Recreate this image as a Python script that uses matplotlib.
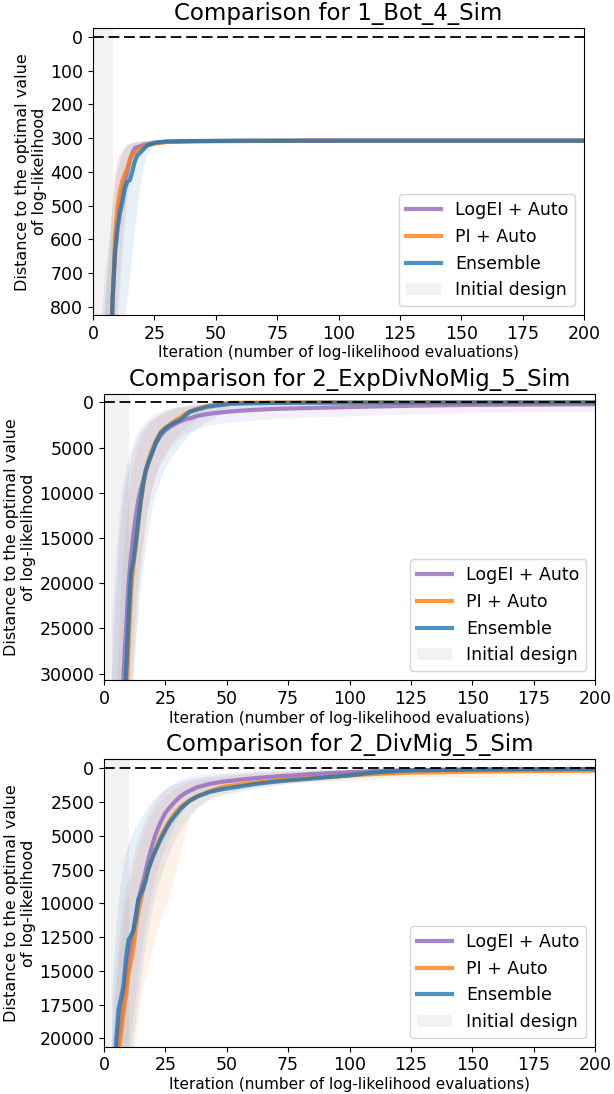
import numpy as np
import matplotlib
matplotlib.use("Agg")
from matplotlib import pyplot as plt
from matplotlib.patches import Patch
from matplotlib.lines import Line2D

# ---- data (median curve + lower/upper band) ----

# 1_Bot_4_Sim
bot_iter = [3, 4, 5, 6, 7, 8, 9, 10, 11, 12, 13, 14, 15, 16, 17, 18, 19, 20, 22, 25, 30, 40, 60, 100, 200]
bot_logei = [3000, 2500, 2000, 1500, 1000, 780, 620, 540, 490, 455, 425, 400, 365, 345, 330, 327, 325, 322, 318, 314, 311, 309, 308, 307, 307]
bot_logei_lo = [1000, 900, 800, 700, 620, 500, 420, 380, 355, 340, 330, 322, 318, 315, 313, 312, 311, 310, 309, 308, 307, 306, 306, 306, 306]
bot_logei_hi = [4000, 3500, 3000, 2500, 1200, 1050, 950, 850, 750, 650, 560, 490, 430, 400, 375, 360, 350, 342, 332, 322, 316, 312, 310, 309, 309]
bot_pi = [3000, 2500, 2000, 1500, 1000, 790, 590, 500, 455, 425, 405, 390, 365, 350, 342, 336, 332, 328, 321, 316, 312, 310, 309, 308, 308]
bot_pi_lo = [1000, 900, 780, 700, 600, 480, 400, 360, 345, 335, 328, 322, 318, 315, 313, 312, 311, 310, 309, 308, 307, 306, 306, 306, 306]
bot_pi_hi = [4000, 3500, 3000, 2500, 1100, 1000, 900, 800, 700, 600, 520, 460, 420, 390, 370, 355, 345, 338, 330, 322, 316, 312, 310, 309, 309]
bot_ens = [3000, 2500, 2000, 1500, 1000, 770, 640, 570, 520, 490, 450, 429, 425, 400, 370, 352, 345, 338, 322, 314, 310, 309, 308, 308, 308]
bot_ens_lo = [900, 800, 700, 640, 580, 500, 440, 400, 370, 345, 330, 322, 318, 315, 313, 312, 311, 310, 309, 308, 307, 306, 306, 306, 306]
bot_ens_hi = [4000, 3500, 3000, 2500, 1200, 1100, 1000, 950, 900, 860, 830, 780, 720, 650, 580, 520, 460, 410, 350, 325, 316, 312, 310, 309, 309]

# 2_ExpDivNoMig_5_Sim
exp_iter = [3, 4, 5, 6, 7, 8, 9, 10, 11, 12, 13, 14, 15, 16, 17, 18, 19, 20, 21, 23, 25, 27, 29, 31, 33, 35, 38, 42, 46, 52, 60, 70, 85, 100, 125, 150, 200]
exp_logei = [80000, 70000, 60000, 50000, 38000, 30000, 25000, 20000, 17000, 14500, 12500, 10800, 9600, 8600, 7600, 6800, 6000, 5300, 4600, 3700, 3100, 2700, 2400, 2100, 1900, 1770, 1500, 1300, 1150, 1000, 850, 720, 620, 520, 380, 280, 220]
exp_logei_lo = [25000, 20000, 16000, 13000, 10000, 8500, 7000, 6000, 5000, 4200, 3600, 3100, 2700, 2400, 2100, 1800, 1600, 1400, 1200, 1000, 800, 650, 550, 450, 400, 350, 300, 250, 200, 150, 120, 100, 80, 60, 40, 30, 20]
exp_logei_hi = [99000, 99000, 99000, 99000, 99000, 50000, 42000, 35000, 30000, 26000, 22000, 19000, 17000, 15000, 13000, 11500, 10000, 9000, 8000, 6800, 5800, 5000, 4400, 3900, 3500, 3200, 2900, 2600, 2400, 2200, 2000, 1800, 1600, 1500, 1300, 1100, 1000]
exp_pi = [90000, 80000, 70000, 60000, 48000, 40000, 33000, 27000, 21000, 18000, 15800, 13300, 11000, 9200, 7600, 6500, 5700, 5000, 4300, 3300, 2800, 2400, 2000, 1700, 1300, 1000, 700, 400, 150, 50, 30, 20, 10, 10, 5, 5, 5]
exp_pi_lo = [40000, 35000, 30000, 25000, 20000, 16000, 13000, 10000, 8000, 6500, 5500, 4600, 3900, 3300, 2900, 2500, 2200, 1900, 1700, 1300, 1000, 800, 600, 450, 350, 250, 150, 80, 30, 10, 0, 0, 0, 0, 0, 0, 0]
exp_pi_hi = [99000, 99000, 99000, 99000, 99000, 60000, 50000, 42000, 36000, 30000, 25000, 21000, 18000, 15500, 13000, 11500, 10000, 9000, 8000, 6500, 5500, 4600, 4000, 3400, 2900, 2400, 1800, 1200, 800, 400, 200, 100, 60, 40, 30, 20, 15]
exp_ens = [90000, 80000, 70000, 60000, 45000, 36000, 30000, 24000, 19000, 17500, 15400, 13000, 10800, 9000, 7500, 6700, 6000, 5300, 4540, 3430, 2900, 2510, 2200, 1960, 1500, 1040, 800, 500, 350, 150, 100, 60, 40, 30, 20, 15, 10]
exp_ens_lo = [30000, 25000, 20000, 15000, 12000, 10000, 8500, 7000, 6000, 5000, 4300, 3700, 3200, 2800, 2500, 2200, 2000, 1800, 1600, 1300, 1000, 800, 650, 500, 400, 300, 200, 100, 50, 20, 0, 0, 0, 0, 0, 0, 0]
exp_ens_hi = [99000, 99000, 99000, 99000, 99000, 45000, 40000, 36000, 33000, 30000, 26000, 23000, 20000, 18000, 16000, 14000, 12500, 11000, 10000, 8500, 7200, 6200, 5400, 4700, 4100, 3500, 2800, 2100, 1500, 1000, 700, 450, 300, 200, 150, 100, 80]

# 2_DivMig_5_Sim
div_iter = [3, 4, 5, 6, 7, 8, 9, 10, 11, 12, 13, 14, 15, 16, 17, 18, 19, 20, 21, 23, 25, 27, 29, 31, 33, 35, 38, 43, 48, 55, 62, 70, 76, 85, 100, 110, 125, 150, 175, 200]
div_logei = [31000, 26000, 22000, 19800, 18500, 17200, 15800, 14300, 13000, 12000, 10800, 9700, 9000, 8300, 7600, 6800, 6100, 5500, 4900, 4000, 3300, 2850, 2450, 2100, 1850, 1650, 1400, 1150, 1000, 850, 720, 600, 540, 420, 280, 200, 130, 90, 70, 60]
div_logei_lo = [20000, 17000, 14500, 12500, 11000, 9800, 8800, 7900, 7100, 6400, 5700, 5100, 4600, 4100, 3700, 3300, 2900, 2600, 2300, 1900, 1500, 1250, 1000, 800, 700, 600, 500, 400, 320, 250, 200, 150, 120, 100, 80, 60, 50, 40, 30, 20]
div_logei_hi = [60000, 50000, 40000, 32000, 28000, 25000, 23000, 21000, 19500, 18000, 16500, 15000, 13800, 12600, 11500, 10500, 9600, 8800, 8000, 6800, 5800, 4900, 4100, 3400, 2900, 2500, 2100, 1700, 1400, 1200, 1000, 800, 650, 500, 400, 320, 260, 220, 190, 170]
div_pi = [32000, 28000, 24000, 21000, 19500, 18000, 16800, 15200, 14300, 13300, 11800, 10600, 9800, 8900, 8030, 7500, 7000, 6450, 6000, 5100, 4400, 3800, 3300, 2900, 2600, 2350, 2050, 1700, 1400, 1200, 1050, 900, 830, 700, 520, 420, 320, 250, 200, 180]
div_pi_lo = [22000, 19000, 16000, 14000, 12500, 11200, 10000, 9000, 8000, 7200, 6500, 5800, 5200, 4700, 4200, 3800, 3400, 3100, 2800, 2400, 2000, 1750, 1500, 1300, 1150, 1000, 850, 700, 600, 450, 350, 280, 230, 200, 150, 120, 100, 80, 70, 60]
div_pi_hi = [60000, 50000, 40000, 35000, 30000, 27000, 25000, 23000, 21500, 21000, 20000, 18500, 17000, 16000, 15200, 14600, 13800, 13200, 12500, 11200, 10300, 9300, 7800, 6200, 4800, 3500, 2800, 2200, 1900, 1600, 1400, 1200, 1100, 1000, 900, 800, 700, 600, 550, 500]
div_ens = [30000, 24000, 20000, 17800, 17000, 16000, 14000, 12700, 12400, 12000, 11000, 9800, 9300, 8900, 8300, 7500, 7000, 6500, 6100, 5300, 4600, 3950, 3500, 3050, 2700, 2400, 2100, 1750, 1550, 1350, 1150, 980, 880, 750, 520, 300, 150, 90, 60, 40]
div_ens_lo = [17000, 14000, 11500, 9500, 8000, 7000, 6200, 5500, 5000, 4600, 4300, 4000, 3700, 3400, 3100, 2800, 2500, 2300, 2100, 1800, 1500, 1300, 1150, 1000, 900, 800, 700, 550, 450, 350, 280, 220, 180, 140, 100, 60, 40, 30, 20, 10]
div_ens_hi = [60000, 50000, 40000, 32000, 28000, 26000, 24000, 22000, 21000, 20000, 18500, 17000, 15500, 14000, 13000, 12000, 11000, 10000, 9200, 8000, 7000, 6000, 5200, 4600, 4000, 3500, 2900, 2300, 2000, 1700, 1450, 1250, 1100, 950, 750, 550, 350, 250, 200, 150]

labels = ['LogEI + Auto', 'PI + Auto', 'Ensemble']
colors = ['tab:purple', 'tab:orange', 'tab:blue']

panels = [
    ('1_Bot_4_Sim', bot_iter, [(bot_logei, bot_logei_lo, bot_logei_hi), (bot_pi, bot_pi_lo, bot_pi_hi), (bot_ens, bot_ens_lo, bot_ens_hi)],
     8, (824, -25), np.arange(0, 801, 100), [93 / 614, 1 - 315 / 1094, 491 / 614, 286.7 / 1094]),
    ('2_ExpDivNoMig_5_Sim', exp_iter, [(exp_logei, exp_logei_lo, exp_logei_hi), (exp_pi, exp_pi_lo, exp_pi_hi), (exp_ens, exp_ens_lo, exp_ens_hi)],
     10, (30700, -920), np.arange(0, 30001, 5000), [104 / 614, 1 - 680 / 1094, 491 / 614, 286 / 1094]),
    ('2_DivMig_5_Sim', div_iter, [(div_logei, div_logei_lo, div_logei_hi), (div_pi, div_pi_lo, div_pi_hi), (div_ens, div_ens_lo, div_ens_hi)],
     10, (20620, -670), np.arange(0, 20001, 2500), [104 / 614, 1 - 1046.7 / 1094, 491 / 614, 287.4 / 1094]),
]

fig = plt.figure(figsize=(6.14, 10.94), dpi=100)

for name, it, series, n_init, ylim, yticks, pos in panels:
    ax = fig.add_axes(pos)
    ax.axvspan(0, n_init, color='gray', alpha=0.1, lw=0, zorder=0)
    for (med, lo, hi), c in zip(series, colors):
        ax.fill_between(it, lo, hi, color=c, alpha=0.1, lw=0)
    for (med, lo, hi), c, lab in zip(series, colors, labels):
        ax.plot(it, med, color=c, lw=3, alpha=0.8, label=lab)
    ax.axhline(0, color='black', lw=1.3, linestyle=(0, (6, 2.6)))
    ax.set_xlim(0, 200)
    ax.set_ylim(*ylim)
    ax.set_yticks(yticks)
    ax.tick_params(labelsize=12.5)
    ax.set_title('Comparison for ' + name, fontsize=16.5)
    ax.set_xlabel('Iteration (number of log-likelihood evaluations)', fontsize=11, labelpad=2)
    ax.set_ylabel('Distance to the optimal value\nof log-likelihood', fontsize=11.5, labelpad=2)

    handles = [Line2D([], [], color=c, lw=3, alpha=0.8) for c in colors]
    handles.append(Patch(facecolor='gray', alpha=0.1, lw=0))
    ax.legend(handles, labels + ['Initial design'], loc='lower right', fontsize=12.5)

fig.savefig('out.png', dpi=100)
